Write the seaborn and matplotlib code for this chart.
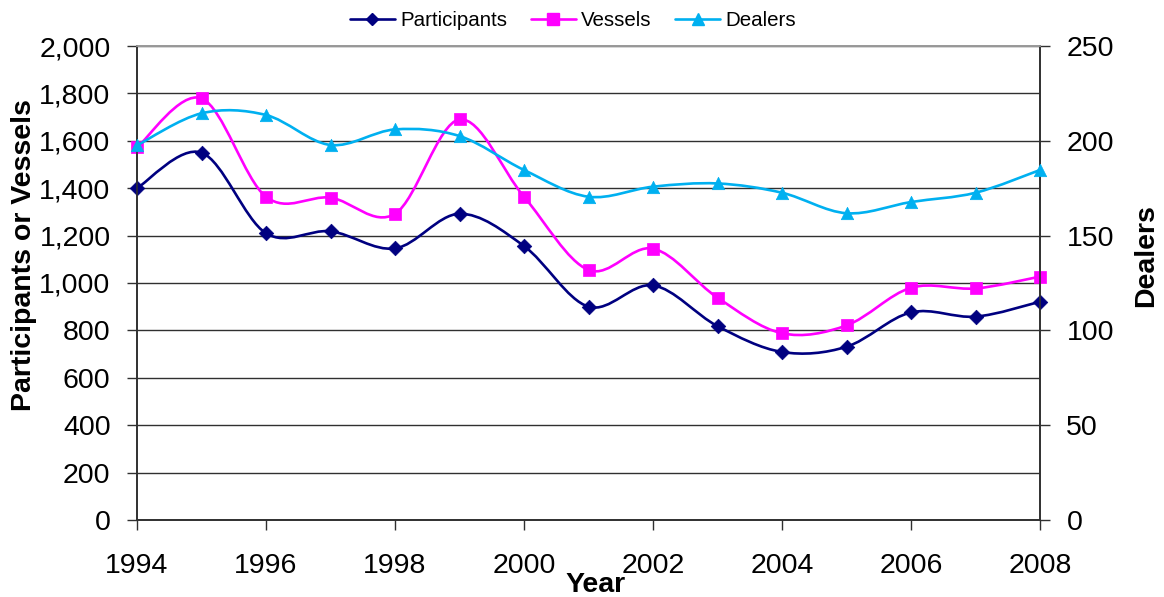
import numpy as np
import pandas as pd
import matplotlib
matplotlib.use("Agg")
import matplotlib.pyplot as plt
from matplotlib.path import Path
from matplotlib.patches import PathPatch
from matplotlib.lines import Line2D
from matplotlib.ticker import FuncFormatter
import seaborn as sns

# Values
years = [1994, 1995, 1996, 1997, 1998, 1999, 2000, 2001,
         2002, 2003, 2004, 2005, 2006, 2007, 2008]
participants = [1400, 1550, 1210, 1218, 1146, 1292, 1156, 900,
                990, 818, 709, 731, 876, 858, 921]
vessels = [1572, 1779, 1364, 1360, 1292, 1690, 1364, 1055,
           1145, 938, 788, 821, 980, 977, 1027]
dealers = [197.6, 214.5, 213.6, 197.8, 206, 202.5, 184.6, 170.5,
           175.8, 177.5, 172.6, 161.8, 167.7, 172.6, 184.6]

C_PART = "#000080"
C_VES = "#FF00FF"
C_DEAL = "#00B0F0"
FONT = "Liberation Sans"


def smooth_path(x, y):
    """Excel-style smoothed line: cubic Bezier through every point."""
    x = np.asarray(x, float)
    y = np.asarray(y, float)
    n = len(x)
    verts = [(x[0], y[0])]
    codes = [Path.MOVETO]
    for i in range(n - 1):
        i0 = max(i - 1, 0)
        i3 = min(i + 2, n - 1)
        c1 = (x[i] + (x[i + 1] - x[i0]) / 6, y[i] + (y[i + 1] - y[i0]) / 6)
        c2 = (x[i + 1] - (x[i3] - x[i]) / 6, y[i + 1] - (y[i3] - y[i]) / 6)
        verts += [c1, c2, (x[i + 1], y[i + 1])]
        codes += [Path.CURVE4] * 3
    return Path(verts, codes)


sns.set_theme(style="white")
plt.rcParams["font.family"] = [FONT, "DejaVu Sans"]
plt.rcParams.update({"text.color": "black", "axes.labelcolor": "black",
                     "xtick.color": "black", "ytick.color": "black"})

df = pd.DataFrame({"Year": years, "Participants": participants,
                   "Vessels": vessels, "Dealers": dealers})

fig = plt.figure(figsize=(11.64, 5.97), dpi=100)
ax = fig.add_axes([137 / 1164, 77 / 597, 903 / 1164, 474 / 597])
ax2 = ax.twinx()

# smoothed lines
for a, col, c in [(ax, "Participants", C_PART), (ax, "Vessels", C_VES),
                  (ax2, "Dealers", C_DEAL)]:
    a.add_patch(PathPatch(smooth_path(df["Year"], df[col]), facecolor="none",
                          edgecolor=c, lw=1.9, zorder=3, clip_on=False))

sns.scatterplot(data=df, x="Year", y="Participants", ax=ax, marker="D",
                s=55, color=C_PART, edgecolor=C_PART, linewidth=0.5,
                zorder=4, clip_on=False)
sns.scatterplot(data=df, x="Year", y="Vessels", ax=ax, marker="s",
                s=85, color=C_VES, edgecolor=C_VES, linewidth=0.5,
                zorder=4, clip_on=False)
sns.scatterplot(data=df, x="Year", y="Dealers", ax=ax2, marker="^",
                s=80, color=C_DEAL, edgecolor=C_DEAL, linewidth=0.5,
                zorder=4, clip_on=False)

ax.set_xlim(1994, 2008)
ax.set_ylim(0, 2000)
ax2.set_ylim(0, 250)
ax.set_xticks(range(1994, 2009, 2))
ax.set_yticks(range(0, 2001, 200))
ax2.set_yticks(range(0, 251, 50))
ax.yaxis.set_major_formatter(FuncFormatter(lambda v, p: f"{int(v):,}"))

ax.grid(axis="y", color="#303030", lw=1.0)
ax.grid(axis="x", visible=False)
ax2.grid(False)

fs = 20.5
ax.tick_params(axis="y", direction="out", length=7, width=1, pad=12,
               labelsize=fs, left=True, color="#303030", labelcolor="black")
ax.tick_params(axis="x", direction="out", length=7, width=1, pad=17,
               labelsize=fs, bottom=True, color="#303030", labelcolor="black")
ax2.tick_params(axis="y", direction="out", length=7, width=1, pad=12,
                labelsize=fs, right=True, color="#303030", labelcolor="black")

for a in (ax, ax2):
    for side in ["left", "right", "bottom"]:
        a.spines[side].set_color("#303030")
        a.spines[side].set_linewidth(1.2)
    a.spines["top"].set_color("#999999")

ax.set_xlabel("Year", fontsize=fs, fontweight="bold", color="black")
ax.xaxis.set_label_coords((596 - 137) / 903, (520 - 572) / 474)
ax.set_ylabel("Participants or Vessels", fontsize=fs, fontweight="bold",
              color="black")
ax.yaxis.set_label_coords((37 - 137) / 903, (520 - 255) / 474)
ax2.set_ylabel("Dealers", fontsize=fs, fontweight="bold", rotation=90,
               color="black")
ax2.yaxis.set_label_coords((1133 - 137) / 903, (520 - 256) / 474)

handles = [
    Line2D([], [], color=C_PART, lw=1.9, marker="D", ms=6),
    Line2D([], [], color=C_VES, lw=1.9, marker="s", ms=8),
    Line2D([], [], color=C_DEAL, lw=1.9, marker="^", ms=8),
]
leg = ax2.legend(handles, ["Participants", "Vessels", "Dealers"],
                 loc="center", bbox_to_anchor=((573 - 137) / 903, (520 - 21) / 474),
                 ncol=3, frameon=True, fancybox=False, fontsize=14.8,
                 handlelength=2.2, handletextpad=0.25, columnspacing=1.15,
                 borderpad=0.4)
leg.get_frame().set_edgecolor("none")
leg.get_frame().set_facecolor("white")
leg.get_frame().set_alpha(1)
for t in leg.get_texts():
    t.set_color("black")

fig.savefig("out.png", dpi=100)
